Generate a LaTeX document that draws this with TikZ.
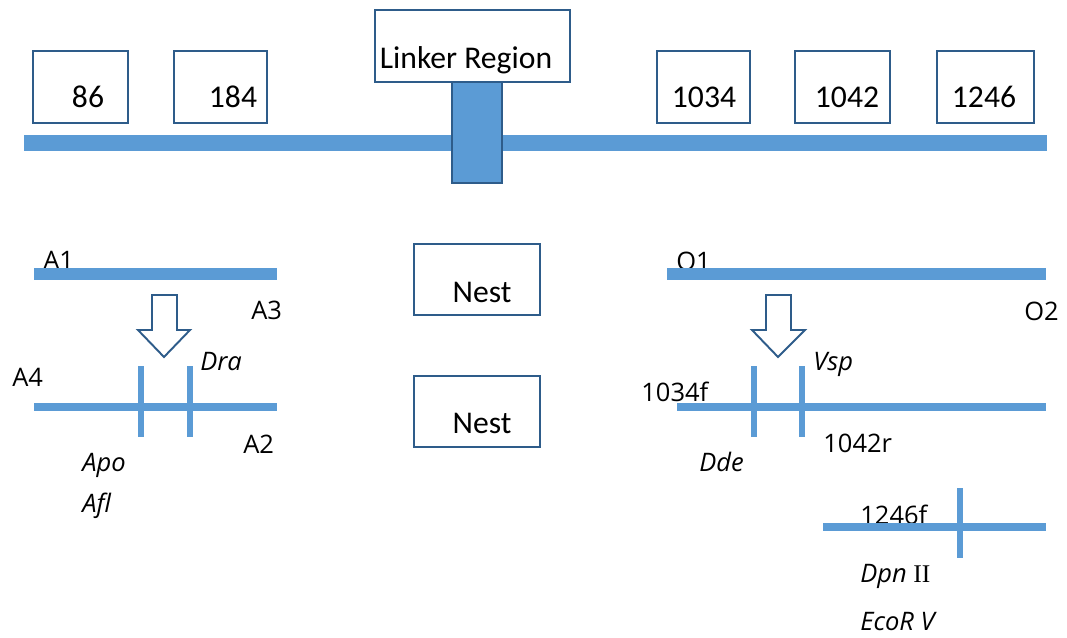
\documentclass[tikz,border=0pt]{standalone}
\usepackage{fontspec}
\setmainfont{Carlito}
\newfontfamily\lblfont{Open Sans}
\newfontfamily\romfont{Liberation Serif}
\definecolor{barblue}{HTML}{5B9BD5}
\definecolor{edgeblue}{HTML}{2E5C8A}

\begin{document}
\begin{tikzpicture}[x=0.02cm,y=-0.02cm,
	bar/.style={barblue,line width=0.32cm},
	thick seg/.style={barblue,line width=0.24cm},
	seg/.style={barblue,line width=0.16cm},
	cut/.style={barblue,line width=0.12cm},
	frame/.style={draw=edgeblue,line width=1.1pt,fill=white},
	boxtxt/.style={anchor=base,inner sep=0pt,font=\fontsize{18}{20}\selectfont},
	lbl/.style={anchor=base west,inner sep=0pt,font=\lblfont\fontsize{14.5}{16}\selectfont},
	enz/.style={anchor=base west,inner sep=0pt,font=\lblfont\itshape\fontsize{14.5}{16}\selectfont}]
	\useasboundingbox (0,0) rectangle (1067,637);
	% full gene
	\coordinate (g0) at (24,143);
	\coordinate (g1) at (1047,143);
	\draw[bar] (g0) -- (g1);
	\draw[frame] (33,51) rectangle (128,123);
	\draw[frame] (174,51) rectangle (267,123);
	\draw[frame] (657,51) rectangle (750,123);
	\draw[frame] (795,51) rectangle (890,123);
	\draw[frame] (937,51) rectangle (1034,123);
	\node[boxtxt] (p86) at (88,107) {86};
	\node[boxtxt] (p184) at (233,107) {184};
	\node[boxtxt] (p1034) at (704,107) {1034};
	\node[boxtxt] (p1042) at (847,107) {1042};
	\node[boxtxt] (p1246) at (984,107) {1246};
	\draw[frame] (375,10) rectangle (570,82);
	\node[boxtxt] (link) at (466,68) {Linker Region};
	\draw[frame,fill=barblue] (452,82) rectangle (502,183);
	% nest boxes
	\draw[frame] (414,244) rectangle (540,315);
	\draw[frame] (414,376) rectangle (540,447);
	\node[boxtxt] (nest1) at (482,302) {Nest};
	\node[boxtxt] (nest2) at (482,433) {Nest};
	% A primers
	\node[lbl] (a1) at (43,269) {A1};
	\node[lbl] (a3) at (251,319) {A3};
	\node[lbl] (a4) at (12,386) {A4};
	\node[lbl] (a2) at (243,453) {A2};
	\coordinate (al0) at (34,274);
	\coordinate (al1) at (277,274);
	\draw[thick seg] (al0) -- (al1);
	\draw[frame] (152,295) -- (177,295) -- (177,330) -- (190,330) -- (164,357)
		-- (138,330) -- (152,330) -- cycle;
	\coordinate (ab0) at (34,407);
	\coordinate (ab1) at (277,407);
	\draw[seg] (ab0) -- (ab1);
	\draw[cut] (141,366) -- (141,437);
	\draw[cut] (190,366) -- (190,437);
	\node[enz] (dra) at (200,370) {Dra};
	\node[enz] (apo) at (82,471) {Apo};
	\node[enz] (afl) at (82,512) {Afl};
	% O primers
	\node[lbl] (o1) at (676,270) {O1};
	\node[lbl] (o2) at (1024,320) {O2};
	\coordinate (ol0) at (667,274);
	\coordinate (ol1) at (1046,274);
	\draw[thick seg] (ol0) -- (ol1);
	\draw[frame] (766,295) -- (791,295) -- (791,330) -- (805,330) -- (778,357)
		-- (752,330) -- (766,330) -- cycle;
	\node[lbl] (f1034) at (641,401) {1034f};
	\node[lbl] (r1042) at (823,452) {1042r};
	\coordinate (ob0) at (677,407);
	\coordinate (ob1) at (1046,407);
	\draw[seg] (ob0) -- (ob1);
	\draw[cut] (754,366) -- (754,437);
	\draw[cut] (802,366) -- (802,437);
	\node[enz] (vsp) at (813,370) {Vsp};
	\node[enz] (dde) at (699,471) {Dde};
	% 1246f
	\node[lbl] (f1246) at (860,524) {1246f};
	\coordinate (c0) at (823,527);
	\coordinate (c1) at (1046,527);
	\draw[seg] (c0) -- (c1);
	\draw[cut] (960,488) -- (960,558);
	\node[enz] (dpn) at (860,582) {Dpn {\upshape\romfont II}};
	\node[enz] (eco) at (860,630) {EcoR V};
\end{tikzpicture}
\end{document}
